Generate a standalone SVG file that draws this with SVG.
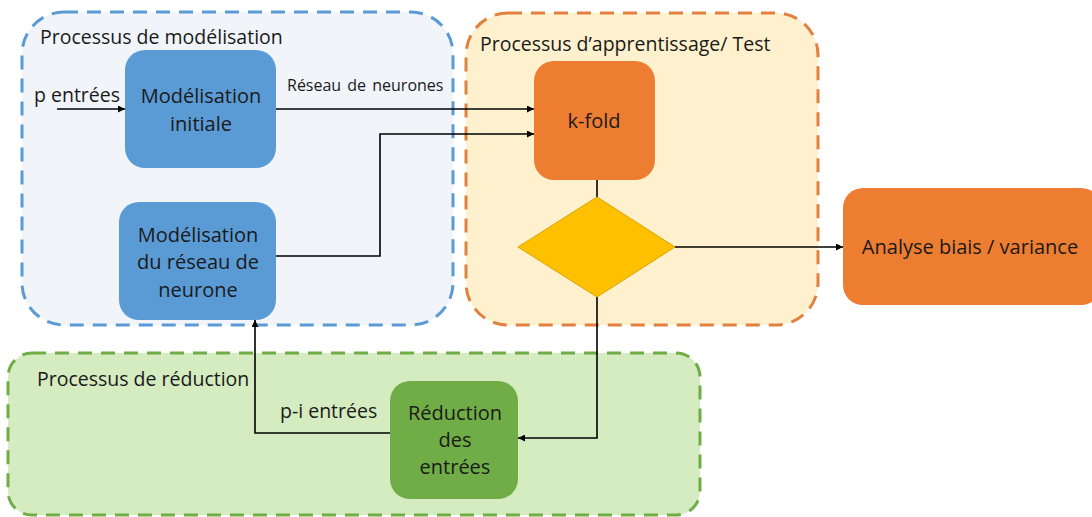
<svg xmlns="http://www.w3.org/2000/svg" width="1092" height="517" viewBox="0 0 1092 517">
<defs>
<marker id="arr" viewBox="0 0 10 10" refX="10" refY="5" markerWidth="7" markerHeight="7" markerUnits="userSpaceOnUse" orient="auto">
<path d="M0,0 L10,5 L0,10 z" fill="#000"/>
</marker>
<style>
text{font-family:"Open Sans","Liberation Sans",sans-serif;fill:#1a1a1a}
.t{font-size:19.5px}
.n{font-size:20px;text-anchor:middle}
.s{font-size:16px;word-spacing:2px}
.c{fill:none;stroke:#000;stroke-width:1.6}
.box{stroke-width:3;stroke-dasharray:14,9}
</style>
</defs>
<rect width="1092" height="517" fill="#fff"/>
<g id="container-modelisation">
<rect class="box" x="22" y="12" width="431" height="313" rx="42" fill="#F1F5FA" stroke="#5B9BD5"/>
<text class="t" x="40" y="44">Processus de modélisation</text>
</g>
<g id="container-apprentissage">
<rect class="box" x="466" y="13" width="352" height="312" rx="42" fill="#FFF1CD" stroke="#E2803F"/>
<text class="t" x="480" y="51">Processus d’apprentissage/ Test</text>
</g>
<g id="container-reduction">
<rect class="box" x="8" y="353" width="692" height="162" rx="24" fill="#D5EBC0" stroke="#70AD47"/>
<text class="t" x="37" y="386">Processus de réduction</text>
</g>
<g id="connectors">
<line class="c" x1="57" y1="109" x2="125" y2="109" marker-end="url(#arr)"/>
<line class="c" x1="276" y1="109" x2="534" y2="109" marker-end="url(#arr)"/>
<polyline class="c" points="276,256 380,256 380,134 534,134" marker-end="url(#arr)"/>
<line class="c" x1="597" y1="180" x2="597" y2="197"/>
<line class="c" x1="675" y1="247" x2="843" y2="247" marker-end="url(#arr)"/>
<polyline class="c" points="597,297 597,438 518,438" marker-end="url(#arr)"/>
<polyline class="c" points="390,433 255,433 255,320" marker-end="url(#arr)"/>
<text class="s" x="287" y="91">Réseau de neurones</text>
<text class="t" x="34" y="102">p entrées</text>
<text class="t" x="280" y="418">p-i entrées</text>
</g>
<g id="node-modelisation-initiale">
<rect x="125" y="50" width="151" height="118" rx="20" fill="#5B9BD5"/>
<text class="n" x="201" y="103">Modélisation</text>
<text class="n" x="201" y="131">initiale</text>
</g>
<g id="node-modelisation-reseau">
<rect x="119" y="202" width="157" height="118" rx="20" fill="#5B9BD5"/>
<text class="n" x="198" y="242">Modélisation</text>
<text class="n" x="198" y="269">du réseau de</text>
<text class="n" x="198" y="297">neurone</text>
</g>
<g id="node-kfold">
<rect x="534" y="61" width="121" height="119" rx="20" fill="#ED7D31"/>
<text class="n" x="594" y="128">k-fold</text>
</g>
<g id="node-decision">
<polygon points="597,197 675,247 597,297 518,247" fill="#FFC000" stroke="#D9A400" stroke-width="1"/>
</g>
<g id="node-analyse">
<rect x="843" y="188" width="258" height="117" rx="20" fill="#ED7D31"/>
<text class="n" x="970" y="254">Analyse biais / variance</text>
</g>
<g id="node-reduction">
<rect x="390" y="381" width="128" height="118" rx="20" fill="#70AD47"/>
<text class="n" x="455" y="420">Réduction</text>
<text class="n" x="455" y="447">des</text>
<text class="n" x="455" y="474">entrées</text>
</g>
</svg>
